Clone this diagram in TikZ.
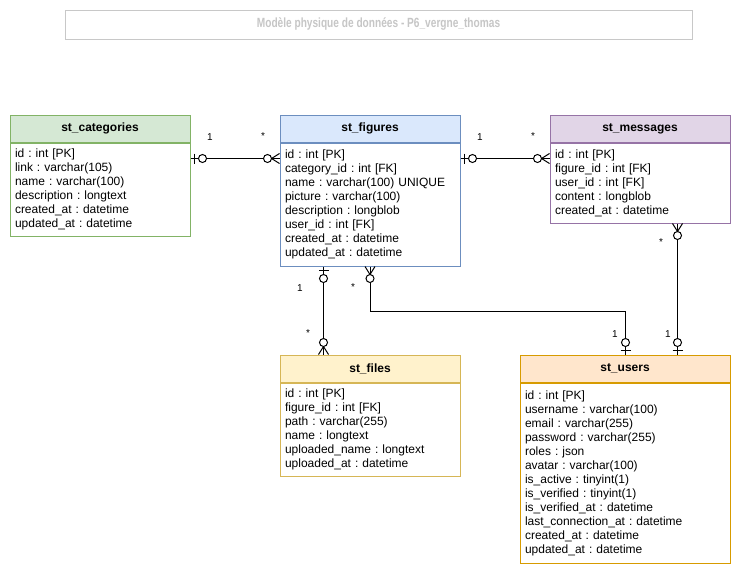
\documentclass[tikz,border=0pt]{standalone}
\usepackage{fontspec}
\setmainfont{Liberation Sans}
\usetikzlibrary{positioning}
\definecolor{catfill}{HTML}{D5E8D4}\definecolor{catline}{HTML}{82B366}
\definecolor{figfill}{HTML}{DAE8FC}\definecolor{figline}{HTML}{6C8EBF}
\definecolor{msgfill}{HTML}{E1D5E7}\definecolor{msgline}{HTML}{9673A6}
\definecolor{filfill}{HTML}{FFF2CC}\definecolor{filline}{HTML}{D6B656}
\definecolor{usrfill}{HTML}{FFE6CC}\definecolor{usrline}{HTML}{D79B00}
\definecolor{titleline}{HTML}{C8C8C8}\definecolor{titletext}{HTML}{C6C6C6}
\frenchspacing

\begin{document}
\begin{tikzpicture}[x=0.75pt,y=-0.75pt,line width=0.75pt,node distance=0pt,
    head/.style={draw,minimum width=#1,minimum height=20.25pt,inner sep=0pt,font=\fontsize{9}{10.5}\selectfont\bfseries},
    body/.style={draw,fill=white,text width=#1,inner xsep=3.75pt,inner ysep=0pt,align=left,font=\fontsize{9}{10.5}\selectfont},
    card/.style={inner sep=0pt,font=\fontsize{7.5}{9}\selectfont},
    zeroone/.pic={\draw (4,-5) -- (4,5); \draw[fill=white] (12,0) circle[radius=4];},
    zeromany/.pic={\draw (0,-5) -- (8,0) -- (0,5); \draw[fill=white] (12,0) circle[radius=4];}]
  \useasboundingbox[fill=white] (0,0) rectangle (741,579);

  % title
  \node[draw=titleline,minimum width=470.25pt,minimum height=21.75pt,text=titletext,
    font=\fontsize{10}{12}\selectfont\bfseries] (title) at (378.5,24.5)
    {\scalebox{0.76}[1]{Modèle physique de données - P6\_vergne\_thomas}};

  % tables
  \node[head=135pt,fill=catfill,draw=catline] (cat) at (100,128.5) {st\_categories};
  \node[body=127.5pt,draw=catline,minimum height=69.75pt,below=of cat] (catb) {id : int [PK]\\link : varchar(105)\\name : varchar(100)\\description : longtext\\created\_at : datetime\\updated\_at : datetime};

  \node[head=135pt,fill=figfill,draw=figline] (fig) at (370,128.5) {st\_figures};
  \node[body=127.5pt,draw=figline,minimum height=92.25pt,below=of fig] (figb) {id : int [PK]\\category\_id : int [FK]\\name : varchar(100) UNIQUE\\picture : varchar(100)\\description : longblob\\user\_id : int [FK]\\created\_at : datetime\\updated\_at : datetime};

  \node[head=135pt,fill=msgfill,draw=msgline] (msg) at (640,128.5) {st\_messages};
  \node[body=127.5pt,draw=msgline,minimum height=60pt,below=of msg] (msgb) {id : int [PK]\\figure\_id : int [FK]\\user\_id : int [FK]\\content : longblob\\created\_at : datetime};

  \node[head=135pt,fill=filfill,draw=filline] (fil) at (370,368.5) {st\_files};
  \node[body=127.5pt,draw=filline,minimum height=69.75pt,below=of fil] (filb) {id : int [PK]\\figure\_id : int [FK]\\path : varchar(255)\\name : longtext\\uploaded\_name : longtext\\uploaded\_at : datetime};

  \node[head=157.5pt,fill=usrfill,draw=usrline] (usr) at (625,368.5) {st\_users};
  \node[body=150pt,draw=usrline,minimum height=135pt,below=of usr] (usrb) {id : int [PK]\\username : varchar(100)\\email : varchar(255)\\password : varchar(255)\\roles : json\\avatar : varchar(100)\\is\_active : tinyint(1)\\is\_verified : tinyint(1)\\is\_verified\_at : datetime\\last\_connection\_at : datetime\\created\_at : datetime\\updated\_at : datetime};

  % end points of the links
  \coordinate (catr) at ([yshift=-12pt]catb.north east);
  \coordinate (figl) at ([yshift=-12pt]figb.north west);
  \coordinate (figr) at ([yshift=-12pt]figb.north east);
  \coordinate (msgl) at ([yshift=-12pt]msgb.north west);
  \coordinate (figf) at ([xshift=33pt]figb.south west);
  \coordinate (filt) at ([xshift=33pt]fil.north west);
  \coordinate (figu) at (figb.south);
  \coordinate (usrf) at ([xshift=79.5pt]usr.north west);
  \coordinate (msgu) at ([xshift=96pt]msgb.south west);
  \coordinate (usrm) at (msgu |- usr.north);

  % links
  \path[-] (catr) edge (figl);
  \path[-] (figr) edge (msgl);
  \path[-] (figf) edge (filt);
  \draw (figu) -- ++(0,45) -| (usrf);
  \path[-] (msgu) edge (usrm);

  \pic at (catr) {zeroone};
  \pic[rotate=180] at (figl) {zeromany};
  \pic at (figr) {zeroone};
  \pic[rotate=180] at (msgl) {zeromany};
  \pic[rotate=-90] at (figf) {zeroone};
  \pic[rotate=90] at (filt) {zeromany};
  \pic[rotate=-90] at (figu) {zeromany};
  \pic[rotate=90] at (usrf) {zeroone};
  \pic[rotate=-90] at (msgu) {zeromany};
  \pic[rotate=90] at (usrm) {zeroone};

  % cardinalities
  \node[card] (c1) at (210,137) {1};
  \node[card] (c2) at (263,136) {*};
  \node[card] (c3) at (480,137) {1};
  \node[card] (c4) at (533,136) {*};
  \node[card] (c5) at (300,288) {1};
  \node[card] (c6) at (308,333) {*};
  \node[card] (c7) at (353,287) {*};
  \node[card] (c8) at (615,334) {1};
  \node[card] (c9) at (661,242) {*};
  \node[card] (c10) at (668,334) {1};
\end{tikzpicture}
\end{document}
